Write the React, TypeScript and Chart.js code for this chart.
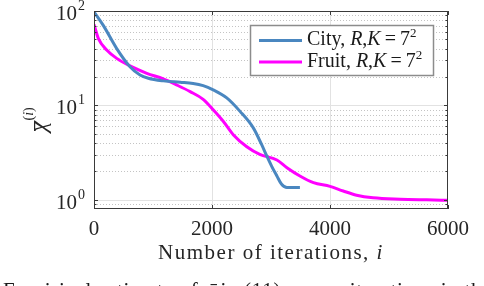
import React, { useEffect, useRef } from "react";
import { Chart, registerables } from "chart.js";

Chart.register(...registerables);

// ---- data ----
const cityIter = [0, 160, 385, 610, 780, 920, 1175, 1460, 1680, 1850, 2020, 2250, 2475, 2700, 2840, 2930, 3010, 3100, 3180, 3270, 3490];
const cityVal = [98, 70, 40, 25.7, 21, 19.4, 18.2, 17.6, 17.1, 16.2, 14.6, 12.0, 8.65, 5.78, 3.86, 2.9, 2.28, 1.79, 1.46, 1.35, 1.35];

const fruitIter = [0, 75, 215, 385, 610, 895, 1175, 1400, 1630, 1850, 2020, 2190, 2360, 2590, 2810, 3100, 3270, 3490, 3720, 4000, 4225, 4450, 4730, 5190, 5640, 6000];
const fruitVal = [72, 51, 38.6, 31.5, 26.2, 21.9, 19.1, 16.5, 14.0, 11.6, 9.0, 6.8, 4.9, 3.65, 3.03, 2.64, 2.19, 1.79, 1.52, 1.39, 1.24, 1.12, 1.05, 1.015, 1.0, 0.99];

const seriesLabels = ["City", "Fruit"];
const seriesColors = ["#4A87C0", "#FF00FF"];
const xTickValues = [0, 2000, 4000, 6000];
const yMajorValues = [1, 10, 100];
const yExponents = ["0", "1", "2"];
const xTitle = "Number of iterations, ";
const xTitleItalic = "i";
const caption = "Empirical estimate of \u03C7\u0304 in (11) across iterations in the";

const SERIF = '"Liberation Serif", "Times New Roman", serif';

type Run = { text: string; font: string; dy?: number };
function drawRuns(ctx: CanvasRenderingContext2D, x: number, y: number, runs: Run[]) {
  for (const r of runs) {
    ctx.font = r.font;
    ctx.fillText(r.text, x, y + (r.dy || 0));
    x += ctx.measureText(r.text).width;
  }
  return x;
}

const decorPlugin = {
  id: "decor",
  beforeDatasetsDraw(chart: any) {
    const { ctx, chartArea: a, scales } = chart;
    const x = scales.x, y = scales.y;
    ctx.save();
    // minor dotted horizontal grid
    ctx.strokeStyle = "#c4c4c4";
    ctx.lineWidth = 1;
    ctx.setLineDash([1, 2]);
    for (const d of [0.1, 1, 10]) {
      for (let m = 2; m <= 9; m++) {
        const v = m * d;
        if (v <= 0.8 + 1e-9 || v >= 100) continue;
        const py = Math.round(y.getPixelForValue(v)) + 0.5;
        ctx.beginPath();
        ctx.moveTo(a.left, py);
        ctx.lineTo(a.right, py);
        ctx.stroke();
      }
    }
    ctx.setLineDash([]);
    // major grid
    ctx.strokeStyle = "#e2e2e2";
    for (const v of yMajorValues) {
      if (v >= 100) continue;
      const py = Math.round(y.getPixelForValue(v)) + 0.5;
      ctx.beginPath();
      ctx.moveTo(a.left, py);
      ctx.lineTo(a.right, py);
      ctx.stroke();
    }
    for (const t of xTickValues) {
      if (t === 0 || t === 6000) continue;
      const px = Math.round(x.getPixelForValue(t)) + 0.5;
      ctx.beginPath();
      ctx.moveTo(px, a.top);
      ctx.lineTo(px, a.bottom);
      ctx.stroke();
    }
    ctx.restore();
  },
  afterDatasetsDraw(chart: any) {
    const { ctx, chartArea: a, scales } = chart;
    const x = scales.x, y = scales.y;
    ctx.save();
    // axes box
    ctx.strokeStyle = "#3a3a3a";
    ctx.lineWidth = 1;
    ctx.strokeRect(a.left + 0.5, a.top + 0.5, a.right - a.left - 1, a.bottom - a.top - 1);
    // ticks
    ctx.beginPath();
    for (const t of xTickValues) {
      const px = Math.round(x.getPixelForValue(t)) + 0.5;
      ctx.moveTo(px, a.bottom);
      ctx.lineTo(px, a.bottom - 4);
      ctx.moveTo(px, a.top);
      ctx.lineTo(px, a.top + 4);
    }
    for (const v of yMajorValues) {
      const py = Math.round(y.getPixelForValue(v)) + 0.5;
      ctx.moveTo(a.left, py);
      ctx.lineTo(a.left + 4, py);
      ctx.moveTo(a.right, py);
      ctx.lineTo(a.right - 4, py);
    }
    for (const d of [0.1, 1, 10]) {
      for (let m = 2; m <= 9; m++) {
        const v = m * d;
        if (v <= 0.8 + 1e-9 || v >= 100) continue;
        const py = Math.round(y.getPixelForValue(v)) + 0.5;
        ctx.moveTo(a.left, py);
        ctx.lineTo(a.left + 2.5, py);
        ctx.moveTo(a.right, py);
        ctx.lineTo(a.right - 2.5, py);
      }
    }
    ctx.stroke();

    ctx.fillStyle = "#262626";
    // x tick labels
    ctx.font = `21px ${SERIF}`;
    ctx.textAlign = "center";
    ctx.textBaseline = "alphabetic";
    for (const t of xTickValues) {
      ctx.fillText(String(t), x.getPixelForValue(t), 235);
    }
    // y tick labels
    ctx.textAlign = "left";
    for (let k = 0; k < yMajorValues.length; k++) {
      const py = y.getPixelForValue(yMajorValues[k]);
      ctx.font = `21px ${SERIF}`;
      const w = ctx.measureText("10").width;
      ctx.fillText("10", 77 - w, py + 9);
      ctx.font = `14px ${SERIF}`;
      ctx.fillText(yExponents[k], 78, py - 1);
    }
    // x title
    ctx.font = `21px ${SERIF}`;
    (ctx as any).letterSpacing = "1.5px";
    const tw = ctx.measureText(xTitle).width;
    ctx.font = `italic 21px ${SERIF}`;
    const iw = ctx.measureText(xTitleItalic).width;
    const sx = (a.left + a.right) / 2 - (tw + iw) / 2;
    drawRuns(ctx, sx, 259, [
      { text: xTitle, font: `21px ${SERIF}` },
      { text: xTitleItalic, font: `italic 21px ${SERIF}` },
    ]);
    (ctx as any).letterSpacing = "0px";

    // y title (rotated)
    ctx.save();
    ctx.translate(46, 132);
    ctx.rotate(-Math.PI / 2);
    ctx.font = `italic 24px ${SERIF}`;
    ctx.fillText("\u03C7", 0, 0);
    const cw = ctx.measureText("\u03C7").width;
    ctx.fillRect(1, -12, cw, 1.2);
    ctx.font = `14px ${SERIF}`;
    ctx.fillText("(", cw + 1, -13);
    let ux = cw + 1 + ctx.measureText("(").width;
    ctx.font = `italic 14px ${SERIF}`;
    ctx.fillText("i", ux, -13);
    ux += ctx.measureText("i").width;
    ctx.font = `14px ${SERIF}`;
    ctx.fillText(")", ux, -13);
    ctx.restore();

    // legend
    ctx.fillStyle = "#ffffff";
    ctx.fillRect(250, 25, 184, 51);
    ctx.strokeStyle = "#8c8c8c";
    ctx.lineWidth = 1.5;
    ctx.strokeRect(250.5, 25.5, 183, 50);
    const rows = [40.5, 62];
    for (let k = 0; k < seriesLabels.length; k++) {
      ctx.strokeStyle = seriesColors[k];
      ctx.lineWidth = 3;
      ctx.beginPath();
      ctx.moveTo(259, rows[k]);
      ctx.lineTo(302, rows[k]);
      ctx.stroke();
      ctx.fillStyle = "#1a1a1a";
      const base = rows[k] + 4.5;
      drawRuns(ctx, 307, base, [
        { text: seriesLabels[k] + ", ", font: `20px ${SERIF}` },
        { text: "R", font: `italic 20px ${SERIF}` },
        { text: ",", font: `20px ${SERIF}` },
        { text: "K", font: `italic 20px ${SERIF}` },
        { text: "\u2009=\u20097", font: `20px ${SERIF}` },
        { text: "2", font: `13px ${SERIF}`, dy: -8 },
      ]);
    }

    // caption (cut off by the image bottom)
    ctx.fillStyle = "#1a1a1a";
    ctx.font = `21px ${SERIF}`;
    (ctx as any).letterSpacing = "0.7px";
    ctx.textAlign = "left";
    ctx.fillText(caption, 3, 297);
    (ctx as any).letterSpacing = "0px";
    ctx.restore();
  },
};

export default function App() {
  const ref = useRef<HTMLCanvasElement>(null);
  useEffect(() => {
    const cityData = cityIter.map((v, i) => ({ x: v, y: cityVal[i] }));
    const fruitData = fruitIter.map((v, i) => ({ x: v, y: fruitVal[i] }));
    const chart = new Chart(ref.current!, {
      type: "line",
      data: {
        datasets: [
          {
            label: seriesLabels[0],
            data: cityData,
            borderColor: seriesColors[0],
            borderWidth: 3,
            pointRadius: 0,
            cubicInterpolationMode: "monotone",
            fill: false,
          },
          {
            label: seriesLabels[1],
            data: fruitData,
            borderColor: seriesColors[1],
            borderWidth: 3,
            pointRadius: 0,
            cubicInterpolationMode: "monotone",
            fill: false,
          },
        ],
      },
      options: {
        animation: false,
        responsive: false,
        devicePixelRatio: 1,
        layout: { padding: { top: 11, right: 36, left: 0, bottom: 0 } },
        plugins: { legend: { display: false }, tooltip: { enabled: false } },
        scales: {
          x: {
            type: "linear",
            min: 0,
            max: 6000,
            ticks: { display: false },
            grid: { display: false },
            border: { display: false },
            afterFit: (s: any) => {
              s.height = 77;
            },
          },
          y: {
            type: "logarithmic",
            min: 0.8,
            max: 100,
            ticks: { display: false },
            grid: { display: false },
            border: { display: false },
            afterFit: (s: any) => {
              s.width = 94;
            },
          },
        },
      },
      plugins: [decorPlugin],
    } as any);
    return () => chart.destroy();
  }, []);
  return (
    <div style={{ position: "absolute", left: 0, top: 0, width: 484, height: 286, background: "#fff", overflow: "hidden" }}>
      <canvas ref={ref} width={484} height={286} style={{ display: "block" }} />
    </div>
  );
}
